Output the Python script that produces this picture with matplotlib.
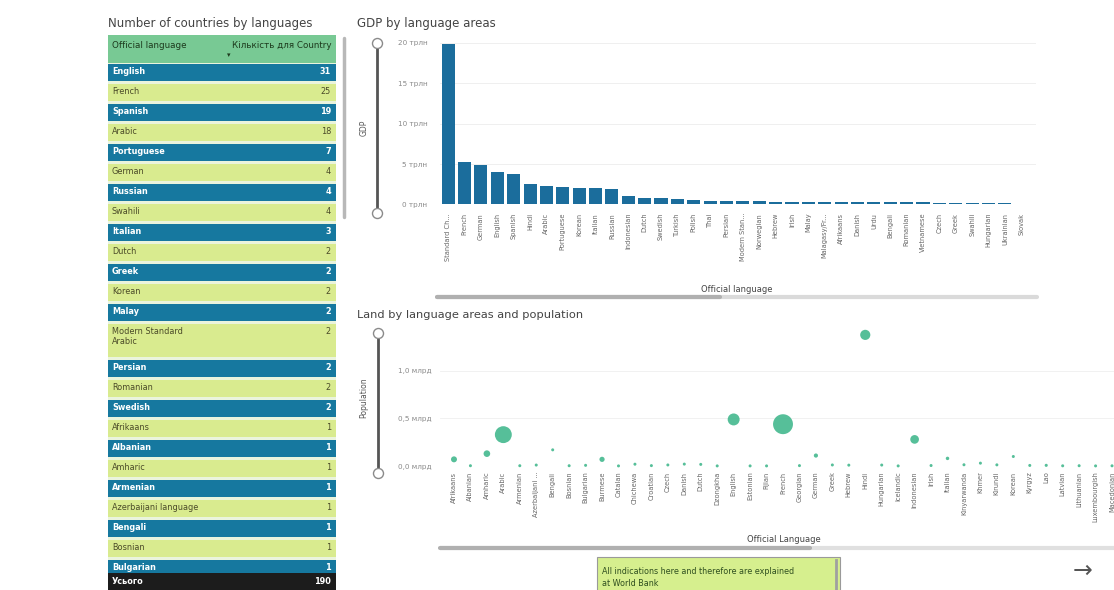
import matplotlib
matplotlib.use('Agg')
import matplotlib.pyplot as plt
from matplotlib.patches import Rectangle
import numpy as np

# ---------------- data ----------------
table_langs = ["English", "French", "Spanish", "Arabic", "Portuguese", "German", "Russian",
               "Swahili", "Italian", "Dutch", "Greek", "Korean", "Malay",
               "Modern Standard\nArabic", "Persian", "Romanian", "Swedish", "Afrikaans",
               "Albanian", "Amharic", "Armenian", "Azerbaijani language", "Bengali",
               "Bosnian", "Bulgarian"]
table_counts = [31, 25, 19, 18, 7, 4, 4, 4, 3, 2, 2, 2, 2, 2, 2, 2, 2, 1, 1, 1, 1, 1, 1, 1, 1]
table_total_label = "Усього"
table_total = 190

gdp_langs = ["Standard Ch...", "French", "German", "English", "Spanish", "Hindi", "Arabic",
             "Portuguese", "Korean", "Italian", "Russian", "Indonesian", "Dutch", "Swedish",
             "Turkish", "Polish", "Thai", "Persian", "Modern Stan...", "Norwegian", "Hebrew",
             "Irish", "Malay", "Malagasy/Fr...", "Afrikaans", "Danish", "Urdu", "Bengali",
             "Romanian", "Vietnamese", "Czech", "Greek", "Swahili", "Hungarian", "Ukrainian",
             "Slovak"]
gdp_values = [19.9, 5.3, 4.9, 4.0, 3.8, 2.6, 2.25, 2.2, 2.05, 2.0, 1.9, 1.1, 0.85, 0.8,
              0.72, 0.58, 0.45, 0.42, 0.40, 0.38, 0.36, 0.35, 0.34, 0.33, 0.32, 0.31, 0.30,
              0.28, 0.27, 0.26, 0.24, 0.22, 0.20, 0.16, 0.15, 0.10]
gdp_ticks = [0, 5, 10, 15, 20]
gdp_ticklabels = ["0 трлн", "5 трлн", "10 трлн", "15 трлн", "20 трлн"]

sc_langs = ["Afrikaans", "Albanian", "Amharic", "Arabic", "Armenian", "Azerbaijani ...",
            "Bengali", "Bosnian", "Bulgarian", "Burmese", "Catalan", "Chichewa", "Croatian",
            "Czech", "Danish", "Dutch", "Dzongkha", "English", "Estonian", "Fijian", "French",
            "Georgian", "German", "Greek", "Hebrew", "Hindi", "Hungarian", "Icelandic",
            "Indonesian", "Irish", "Italian", "Kinyarwanda", "Khmer", "Kirundi", "Korean",
            "Kyrgyz", "Lao", "Latvian", "Lithuanian", "Luxembourgish", "Macedonian"]
sc_population = [0.07, 0.003, 0.13, 0.33, 0.003, 0.01, 0.17, 0.003, 0.007, 0.07, 0.001,
                 0.019, 0.004, 0.011, 0.02, 0.017, 0.001, 0.49, 0.001, 0.001, 0.44, 0.004,
                 0.11, 0.011, 0.009, 1.38, 0.01, 0.001, 0.28, 0.005, 0.08, 0.013, 0.03,
                 0.012, 0.10, 0.006, 0.007, 0.002, 0.003, 0.001, 0.002]
sc_land = [0.9, 0.03, 1.1, 7.2, 0.03, 0.09, 0.15, 0.05, 0.11, 0.68, 0.001, 0.12, 0.06,
           0.08, 0.04, 0.04, 0.04, 3.6, 0.045, 0.018, 10.0, 0.07, 0.44, 0.13, 0.02, 2.6,
           0.09, 0.1, 1.9, 0.07, 0.3, 0.026, 0.18, 0.028, 0.22, 0.2, 0.24, 0.065, 0.065,
           0.003, 0.025]
sc_ticks = [0.0, 0.5, 1.0]
sc_ticklabels = ["0,0 млрд", "0,5 млрд", "1,0 млрд"]

# ---------------- style ----------------
BLUE = '#16789f'
YELLOW = '#d9eb8f'
HEADER = '#78c994'
BAR = '#1b6d9c'
DOT = '#44b88e'

W, H = 1114, 590
fig = plt.figure(figsize=(W / 100, H / 100), dpi=100)
fig.patch.set_facecolor('white')


def px_axes(x0, y0, x1, y1):
    return fig.add_axes([x0 / W, 1 - y1 / H, (x1 - x0) / W, (y1 - y0) / H])


ov = px_axes(0, 0, W, H)
ov.set_xlim(0, W)
ov.set_ylim(H, 0)
ov.axis('off')

# ---------------- table ----------------
ov.text(108, 23, "Number of countries by languages", fontsize=8.5, color='#444', va='center')
ov.add_patch(Rectangle((108, 35), 228, 28, fc=HEADER, ec='none'))
ov.text(112, 45, "Official language", fontsize=6.3, color='#1d3a1d', va='center')
ov.text(331, 45, "Кількість для Country", fontsize=6.3, color='#1d3a1d', va='center', ha='right')
ov.text(229, 55, "▾", fontsize=5, color='#1d3a1d', va='center', ha='center')
ov.add_patch(Rectangle((108, 63), 228, 510, fc='#eaf4dc', ec='none'))

y = 64
for i, (lab, cnt) in enumerate(zip(table_langs, table_counts)):
    h = 36 if '\n' in lab else 20
    blue = (i % 2 == 0)
    fc = BLUE if blue else YELLOW
    ov.add_patch(Rectangle((108, y), 228, h - 3, fc=fc, ec='none'))
    tc = 'white' if blue else '#4a4a28'
    fw = 'bold' if blue else 'normal'
    ov.text(112, y + 3.2, lab, fontsize=5.9, color=tc, fontweight=fw, va='top', linespacing=1.05)
    ov.text(331, y + 3.2, str(cnt), fontsize=5.9, color=tc, fontweight=fw, va='top', ha='right')
    y += h

ov.add_patch(Rectangle((108, 573), 228, 20, fc='#1c1c1c', ec='none', zorder=5))
ov.text(112, 581, table_total_label, fontsize=5.9, color='white', fontweight='bold', va='center', zorder=6)
ov.text(331, 581, str(table_total), fontsize=5.9, color='white', fontweight='bold', va='center', ha='right', zorder=6)
ov.plot([344, 344], [38, 217], color='#b8b8b8', lw=2.5, solid_capstyle='round')

# ---------------- GDP bar chart ----------------
ov.text(357, 23, "GDP by language areas", fontsize=8.5, color='#444', va='center')
ov.plot([377, 377], [43, 213], color='#555', lw=2, zorder=2)
ov.scatter([377, 377], [43, 213], s=52, facecolor='white', edgecolor='#8a8a8a', lw=1, zorder=3)
ov.text(364, 128, "GDP", fontsize=5.5, color='#555', rotation=90, va='center', ha='center')

ax1 = px_axes(440, 43, 1036, 204.5)
ax1.set_facecolor('none')
x1 = np.arange(len(gdp_values))
ax1.bar(x1, gdp_values, width=0.8, color=BAR, zorder=2)
ax1.set_xlim(-0.5, len(gdp_values) - 0.1)
ax1.set_ylim(0, 20)
ax1.set_yticks(gdp_ticks)
ax1.set_yticklabels(gdp_ticklabels)
ax1.set_xticks(x1)
ax1.set_xticklabels(gdp_langs, rotation=90)
ax1.tick_params(axis='y', length=0, pad=9, labelsize=5.2, labelcolor='#8a8a8a')
ax1.tick_params(axis='x', length=0, pad=6, labelsize=4.8, labelcolor='#666')
ax1.yaxis.grid(True, color='#ececec', lw=0.6)
ax1.set_axisbelow(True)
for s in ax1.spines.values():
    s.set_visible(False)

ov.text(737, 289, "Official language", fontsize=6, color='#444', ha='center', va='center')
ov.plot([437, 1037], [297, 297], color='#dadada', lw=3, solid_capstyle='round')
ov.plot([437, 720], [297, 297], color='#b0b0b0', lw=3, solid_capstyle='round')

# ---------------- scatter chart ----------------
ov.text(357, 315, "Land by language areas and population", fontsize=8.2, color='#444', va='center')
ov.plot([377.5, 377.5], [333, 473], color='#555', lw=2, zorder=2)
ov.scatter([377.5, 377.5], [333, 473], s=52, facecolor='white', edgecolor='#8a8a8a', lw=1, zorder=3)
ov.text(364, 398, "Population", fontsize=5.5, color='#555', rotation=90, va='center', ha='center')

ax2 = px_axes(440, 325, 1114, 466)
ax2.set_facecolor('none')
x2 = np.arange(len(sc_langs))
diam_px = np.maximum(3.0, 6.3 * np.sqrt(np.array(sc_land)))
ax2.scatter(x2, sc_population, s=(diam_px * 0.72) ** 2, color=DOT, alpha=0.9,
            edgecolors='none', clip_on=False, zorder=3)
ax2.set_xlim(-0.85, 40.12)
ax2.set_ylim(0, 1.484)
ax2.set_yticks(sc_ticks)
ax2.set_yticklabels(sc_ticklabels)
ax2.set_xticks(x2)
ax2.set_xticklabels(sc_langs, rotation=90)
ax2.tick_params(axis='y', length=0, pad=6, labelsize=5.2, labelcolor='#8a8a8a')
ax2.tick_params(axis='x', length=0, pad=4, labelsize=4.8, labelcolor='#666')
ax2.yaxis.grid(True, color='#efefef', lw=0.6)
ax2.set_axisbelow(True)
for s in ax2.spines.values():
    s.set_visible(False)

ov.text(784, 539, "Official Language", fontsize=6, color='#444', ha='center', va='center')
ov.plot([440, 1114], [548, 548], color='#e0e0e0', lw=3, solid_capstyle='butt')
ov.plot([440, 810], [548, 548], color='#b0b0b0', lw=3, solid_capstyle='round')

# ---------------- note + arrow ----------------
ov.add_patch(Rectangle((597, 557), 243, 40, fc='#d6ef8e', ec='#9a9a9a', lw=0.8))
ov.plot([836, 836], [560, 590], color='#a0a0a0', lw=2)
ov.text(602, 572, "All indications here and therefore are explained", fontsize=5.8,
        color='#2f4f1f', va='center')
ov.text(602, 584, "at World Bank", fontsize=5.8, color='#2f4f1f', va='center')
ov.text(1083, 571, "→", fontsize=17, color='#555', ha='center', va='center')

fig.savefig('out.png', dpi=100, facecolor='white')
